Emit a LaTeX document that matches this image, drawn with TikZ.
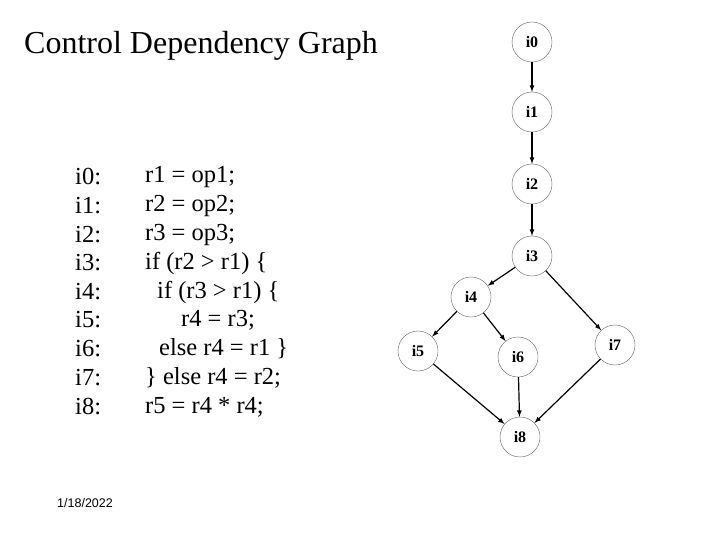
\documentclass[tikz,border=0pt]{standalone}
\usepackage{fontspec}
\setmainfont{Liberation Serif}
\newfontfamily\nodefont{Liberation Sans}
\begin{document}
\begin{tikzpicture}[x=1pt,y=-1pt,
  gn/.style={circle,draw=black!60,thin,minimum size=40pt,inner sep=0pt,font=\bfseries\fontsize{16}{18}\selectfont},
  ed/.style={->,>=latex,line width=1.2pt},
  code/.style={anchor=west,inner sep=0pt,font=\fontsize{24.5}{26}\selectfont}]
\useasboundingbox (0,0) rectangle (720,540);
\node[anchor=west,inner sep=0pt,font=\fontsize{32}{34}\selectfont] (title) at (24,46) {Control Dependency Graph};
\node[gn] (i0) at (532,42) {i0};
\node[gn] (i1) at (532,112) {i1};
\node[gn] (i2) at (532,184) {i2};
\node[gn] (i3) at (532,256) {i3};
\node[gn] (i4) at (471,297) {i4};
\node[gn] (i5) at (418,351) {i5};
\node[gn] (i6) at (518,357) {i6};
\node[gn] (i7) at (615,345) {i7};
\node[gn] (i8) at (520,437) {i8};
\draw[ed] (i0)--(i1); \draw[ed] (i1)--(i2); \draw[ed] (i2)--(i3);
\draw[ed] (i3)--(i4); \draw[ed] (i3)--(i7);
\draw[ed] (i4)--(i5); \draw[ed] (i4)--(i6);
\draw[ed] (i5)--(i8); \draw[ed] (i6)--(i8); \draw[ed] (i7)--(i8);
\node[code] (l0) at (75,177) {i0:};
\node[code] (l1) at (75,206) {i1:};
\node[code] (l2) at (75,235) {i2:};
\node[code] (l3) at (75,263) {i3:};
\node[code] (l4) at (75,292) {i4:};
\node[code] (l5) at (75,320) {i5:};
\node[code] (l6) at (75,349) {i6:};
\node[code] (l7) at (75,378) {i7:};
\node[code] (l8) at (75,407) {i8:};
\node[code] (c0) at (145,177) {r1 = op1;};
\node[code] (c1) at (145,206) {r2 = op2;};
\node[code] (c2) at (145,235) {r3 = op3;};
\node[code] (c3) at (145,263) {if (r2 > r1) \{};
\node[code] (c4) at (157,292) {if (r3 > r1) \{};
\node[code] (c5) at (181,320) {r4 = r3;};
\node[code] (c6) at (159,349) {else r4 = r1 \}};
\node[code] (c7) at (145,378) {\} else r4 = r2;};
\node[code] (c8) at (145,407) {r5 = r4 * r4;};
\node[anchor=west,inner sep=0pt,font=\nodefont\fontsize{12.5}{14}\selectfont] (date) at (57,503) {1/18/2022};
\end{tikzpicture}
\end{document}
